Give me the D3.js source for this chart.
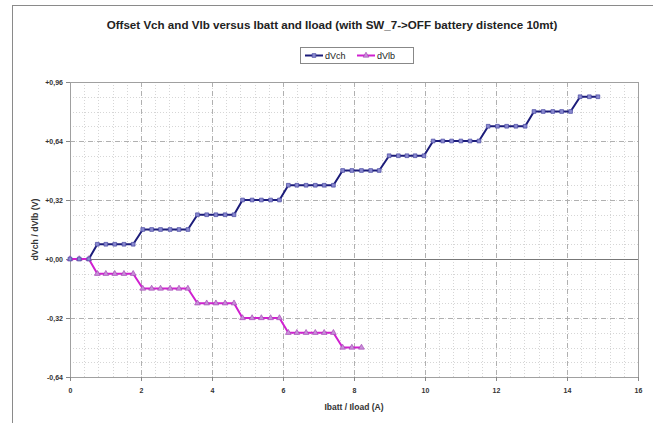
<!DOCTYPE html>
<html>
<head>
<meta charset="utf-8">
<script src="https://cdn.jsdelivr.net/npm/d3@7"></script>
<style>
  body { margin: 0; background: #fff; }
  svg { display: block; font-family: "Liberation Sans", Arial, sans-serif; }
</style>
</head>
<body>
<div id="chart"></div>
<script>
// Offset Vch and Vlb versus Ibatt / Iload

// Measured current (A), shared by both series
const current = [
  0.00, 0.26, 0.53,
  0.77, 1.01, 1.26, 1.52, 1.78,
  2.05, 2.30, 2.55, 2.82, 3.07, 3.32,
  3.59, 3.85, 4.11, 4.37, 4.62,
  4.86, 5.13, 5.39, 5.65, 5.90,
  6.15, 6.39, 6.65, 6.91, 7.16, 7.42,
  7.68, 7.94, 8.21, 8.47, 8.71,
  8.99, 9.25, 9.49, 9.72, 9.97,
  10.23, 10.50, 10.75, 11.01, 11.27, 11.52,
  11.78, 12.04, 12.30, 12.56, 12.82,
  13.07, 13.33, 13.60, 13.85, 14.10,
  14.37, 14.63, 14.87
];

const dVch = [
  0.00, 0.00, 0.00,
  0.08, 0.08, 0.08, 0.08, 0.08,
  0.16, 0.16, 0.16, 0.16, 0.16, 0.16,
  0.24, 0.24, 0.24, 0.24, 0.24,
  0.32, 0.32, 0.32, 0.32, 0.32,
  0.40, 0.40, 0.40, 0.40, 0.40, 0.40,
  0.48, 0.48, 0.48, 0.48, 0.48,
  0.56, 0.56, 0.56, 0.56, 0.56,
  0.64, 0.64, 0.64, 0.64, 0.64, 0.64,
  0.72, 0.72, 0.72, 0.72, 0.72,
  0.80, 0.80, 0.80, 0.80, 0.80,
  0.88, 0.88, 0.88
];

const dVlb = [
  0.00, 0.00, 0.00,
  -0.08, -0.08, -0.08, -0.08, -0.08,
  -0.16, -0.16, -0.16, -0.16, -0.16, -0.16,
  -0.24, -0.24, -0.24, -0.24, -0.24,
  -0.32, -0.32, -0.32, -0.32, -0.32,
  -0.40, -0.40, -0.40, -0.40, -0.40, -0.40,
  -0.48, -0.48, -0.48
];

const xTicks = [0, 2, 4, 6, 8, 10, 12, 14, 16];
const yTicks = [-0.64, -0.32, 0, 0.32, 0.64, 0.96];

const seriesNames = ["dVch", "dVlb"];

// Set up
const width = 653;
const height = 423;
const plot = { left: 70, right: 638, top: 82, bottom: 377 };

const navy = "#1c1c7a";
const magenta = "#d020d0";

const svg = d3.select("#chart")
  .append("svg")
  .attr("width", width)
  .attr("height", height);

// Outer frame of the chart (cut off on right / bottom)
svg.append("rect")
  .attr("x", 12.5)
  .attr("y", 5.5)
  .attr("width", 700)
  .attr("height", 500)
  .attr("fill", "none")
  .attr("stroke", "#8a8a8a");

const x = d3.scaleLinear()
  .domain([0, 16])
  .range([plot.left, plot.right]);

const y = d3.scaleLinear()
  .domain([-0.64, 0.96])
  .range([plot.bottom, plot.top]);

// Minor grid (dotted)
const grid = svg.append("g");

grid.selectAll(".vminor")
  .data(d3.range(0, 16.001, 0.4))
  .join("line")
    .attr("x1", d => Math.round(x(d)) + 0.5)
    .attr("x2", d => Math.round(x(d)) + 0.5)
    .attr("y1", plot.top)
    .attr("y2", plot.bottom)
    .attr("stroke", "#d6d6d6")
    .attr("stroke-dasharray", "1,2");

grid.selectAll(".hminor")
  .data(d3.range(-0.64, 0.961, 0.08))
  .join("line")
    .attr("x1", plot.left)
    .attr("x2", plot.right)
    .attr("y1", d => Math.round(y(d)) + 0.5)
    .attr("y2", d => Math.round(y(d)) + 0.5)
    .attr("stroke", "#d6d6d6")
    .attr("stroke-dasharray", "1,2");

// Major grid (dashed)
grid.selectAll(".vmajor")
  .data(xTicks)
  .join("line")
    .attr("x1", d => Math.round(x(d)) + 0.5)
    .attr("x2", d => Math.round(x(d)) + 0.5)
    .attr("y1", plot.top)
    .attr("y2", plot.bottom)
    .attr("stroke", "#b0b0b0")
    .attr("stroke-dasharray", "5,4");

grid.selectAll(".hmajor")
  .data(yTicks)
  .join("line")
    .attr("x1", plot.left)
    .attr("x2", plot.right)
    .attr("y1", d => Math.round(y(d)) + 0.5)
    .attr("y2", d => Math.round(y(d)) + 0.5)
    .attr("stroke", "#b0b0b0")
    .attr("stroke-dasharray", "5,4");

// Plot border and zero line
svg.append("rect")
  .attr("x", plot.left + 0.5)
  .attr("y", plot.top + 0.5)
  .attr("width", plot.right - plot.left)
  .attr("height", plot.bottom - plot.top)
  .attr("fill", "none")
  .attr("stroke", "#a0a0a0");

svg.append("line")
  .attr("x1", plot.left)
  .attr("x2", plot.right)
  .attr("y1", Math.round(y(0)) + 0.5)
  .attr("y2", Math.round(y(0)) + 0.5)
  .attr("stroke", "#777")
  .attr("stroke-width", 1.2);

// Axes
const fmtY = d => (d >= 0 ? "+" : "") + d3.format(".2f")(d).replace("−", "-").replace(".", ",");

const yAxis = svg.append("g")
  .attr("transform", `translate(${plot.left},0)`)
  .call(d3.axisLeft(y).tickValues(yTicks).tickSize(4).tickPadding(3).tickFormat(fmtY));

const xAxis = svg.append("g")
  .attr("transform", `translate(0,${plot.bottom})`)
  .call(d3.axisBottom(x).tickValues(xTicks).tickSize(4).tickPadding(7).tickFormat(d3.format("d")));

[yAxis, xAxis].forEach(a => {
  a.select(".domain").remove();
  a.selectAll(".tick line").attr("stroke", "#888");
  a.selectAll("text")
    .attr("fill", "#333")
    .attr("font-size", 7)
    .attr("font-weight", "bold");
});

// Series lines and markers
const line = d3.line()
  .x((d, i) => x(current[i]))
  .y(d => y(d));

const chData = dVch.map((v, i) => [current[i], v]);
const lbData = dVlb.map((v, i) => [current[i], v]);

svg.append("path")
  .datum(dVch)
  .attr("fill", "none")
  .attr("stroke", navy)
  .attr("stroke-width", 2)
  .attr("stroke-linejoin", "round")
  .attr("d", line);

svg.append("path")
  .datum(dVlb)
  .attr("fill", "none")
  .attr("stroke", magenta)
  .attr("stroke-width", 2)
  .attr("stroke-linejoin", "round")
  .attr("d", line);

const square = d3.symbol().type(d3.symbolSquare).size(14);
const triangle = d3.symbol().type(d3.symbolTriangle).size(14);

svg.append("g")
  .selectAll("path")
  .data(lbData)
  .join("path")
    .attr("transform", d => `translate(${x(d[0])},${y(d[1])})`)
    .attr("d", triangle)
    .attr("fill", "#c890d8")
    .attr("stroke", "#a848b8")
    .attr("stroke-width", 0.7);

svg.append("g")
  .selectAll("path")
  .data(chData)
  .join("path")
    .attr("transform", d => `translate(${x(d[0])},${y(d[1])})`)
    .attr("d", square)
    .attr("fill", "#8a8ad0")
    .attr("stroke", "#4848a0")
    .attr("stroke-width", 0.7);

// Title and axis titles
svg.append("text")
  .attr("x", 332)
  .attr("y", 29)
  .attr("text-anchor", "middle")
  .attr("font-size", 11.6)
  .attr("font-weight", "bold")
  .attr("fill", "#222")
  .text("Offset Vch and Vlb versus Ibatt and Iload (with SW_7->OFF battery distence 10mt)");

svg.append("text")
  .attr("x", (plot.left + plot.right) / 2)
  .attr("y", 410)
  .attr("text-anchor", "middle")
  .attr("font-size", 8.5)
  .attr("font-weight", "bold")
  .attr("fill", "#333")
  .text("Ibatt / Iload (A)");

svg.append("text")
  .attr("transform", `translate(38,${(plot.top + plot.bottom) / 2}) rotate(-90)`)
  .attr("text-anchor", "middle")
  .attr("font-size", 8.8)
  .attr("font-weight", "bold")
  .attr("fill", "#333")
  .text("dVch / dVlb (V)");

// Legend
const legend = svg.append("g")
  .attr("transform", "translate(300,47)");

legend.append("rect")
  .attr("x", 0.5)
  .attr("y", 0.5)
  .attr("width", 113)
  .attr("height", 16)
  .attr("fill", "#fff")
  .attr("stroke", "#888");

const legendItems = [
  { name: seriesNames[0], color: navy, sym: square, fill: "#8a8ad0", stroke: "#4848a0", dx: 5 },
  { name: seriesNames[1], color: magenta, sym: triangle, fill: "#c890d8", stroke: "#a848b8", dx: 57 }
];

legendItems.forEach(item => {
  const g = legend.append("g").attr("transform", `translate(${item.dx},8.5)`);
  g.append("line")
    .attr("x1", 0)
    .attr("x2", 18)
    .attr("stroke", item.color)
    .attr("stroke-width", 2);
  g.append("path")
    .attr("transform", "translate(9,0)")
    .attr("d", item.sym)
    .attr("fill", item.fill)
    .attr("stroke", item.stroke)
    .attr("stroke-width", 0.7);
  g.append("text")
    .attr("x", 20)
    .attr("y", 3.5)
    .attr("font-size", 9)
    .attr("fill", "#222")
    .text(item.name);
});
</script>
</body>
</html>
